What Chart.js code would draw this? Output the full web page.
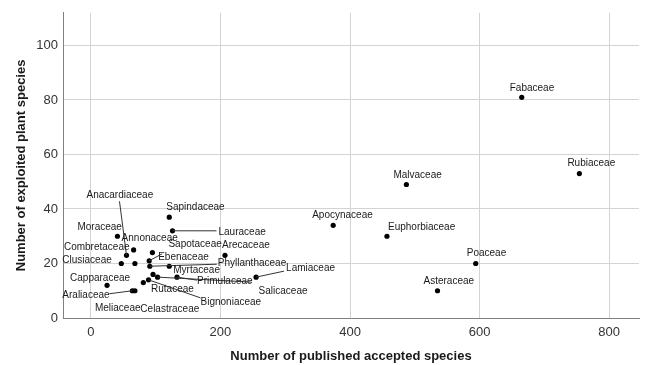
<!DOCTYPE html>
<html>
<head>
<meta charset="utf-8">
<script src="https://cdn.jsdelivr.net/npm/chart.js@4/dist/chart.umd.min.js"></script>
<style>
  html, body { margin: 0; padding: 0; background: #ffffff; }
  canvas { display: block; }
</style>
</head>
<body>
<canvas id="chart" width="646" height="365"></canvas>
<script>
// Plant families: published accepted species vs. exploited species
const families = [
  'Fabaceae', 'Rubiaceae', 'Malvaceae', 'Apocynaceae', 'Euphorbiaceae', 'Poaceae', 'Asteraceae',
  'Sapindaceae', 'Lauraceae', 'Moraceae', 'Anacardiaceae', 'Annonaceae', 'Combretaceae', 'Clusiaceae',
  'Sapotaceae', 'Ebenaceae', 'Phyllanthaceae', 'Myrtaceae', 'Arecaceae', 'Rutaceae', 'Salicaceae',
  'Primulaceae', 'Lamiaceae', 'Celastraceae', 'Bignoniaceae', 'Capparaceae', 'Araliaceae', 'Meliaceae'
];
const publishedSpecies = [
  665, 754, 487, 374, 457, 594, 535,
  121, 126, 41, 55, 66, 68, 47,
  95, 90, 91, 121, 207, 96, 103,
  133, 255, 81, 89, 25, 64, 68
];
const exploitedSpecies = [
  81, 53, 49, 34, 30, 20, 10,
  37, 32, 30, 23, 25, 20, 20,
  24, 21, 19, 19, 23, 16, 15,
  15, 15, 13, 14, 12, 10, 10
];
const xTickValues = [0, 200, 400, 600, 800];
const yTickValues = [0, 20, 40, 60, 80, 100];

// Where each family name sits relative to its point (px), plus optional leader-line end
const labelLayout = {
  Fabaceae:       { dx: -12, dy: -9 },
  Rubiaceae:      { dx: -12, dy: -10 },
  Malvaceae:      { dx: -13, dy: -9 },
  Apocynaceae:    { dx: -21, dy: -10 },
  Euphorbiaceae:  { dx: 1,   dy: -9 },
  Poaceae:        { dx: -9,  dy: -10 },
  Asteraceae:     { dx: -14, dy: -10 },
  Sapindaceae:    { dx: -3,  dy: -10 },
  Lauraceae:      { dx: 46,  dy: 1,   line: [44, 0] },
  Moraceae:       { dx: -40, dy: -9 },
  Anacardiaceae:  { dx: -40, dy: -60, line: [-7, -54] },
  Annonaceae:     { dx: -12, dy: -12 },
  Combretaceae:   { dx: -71, dy: -16 },
  Clusiaceae:     { dx: -59, dy: -3 },
  Sapotaceae:     { dx: 16,  dy: -8 },
  Ebenaceae:      { dx: 9,   dy: -4,  line: [13, -7] },
  Phyllanthaceae: { dx: 68,  dy: -3,  line: [67, -2] },
  Myrtaceae:      { dx: 4,   dy: 4 },
  Arecaceae:      { dx: -3,  dy: -10 },
  Rutaceae:       { dx: -2,  dy: 15 },
  Salicaceae:     { dx: 101, dy: 14,  line: [94, 5] },
  Primulaceae:    { dx: 20,  dy: 4,   line: [20, 3] },
  Lamiaceae:      { dx: 30,  dy: -9,  line: [28, -6] },
  Celastraceae:   { dx: -3,  dy: 27 },
  Bignoniaceae:   { dx: 52,  dy: 22,  line: [52, 18] },
  Capparaceae:    { dx: -37, dy: -7 },
  Araliaceae:     { dx: -70, dy: 4,   line: [-23, 3] },
  Meliaceae:      { dx: -40, dy: 17 }
};

const FONT = '"Liberation Sans", Arial, Helvetica, sans-serif';

// Draws the family names and their leader lines next to each point
const familyLabels = {
  id: 'familyLabels',
  afterDatasetsDraw(chart) {
    const ctx = chart.ctx;
    const meta = chart.getDatasetMeta(0);
    ctx.save();
    ctx.lineWidth = 1;
    ctx.strokeStyle = '#333333';
    meta.data.forEach((pt, i) => {
      const lay = labelLayout[families[i]];
      if (lay && lay.line) {
        ctx.beginPath();
        ctx.moveTo(pt.x, pt.y);
        ctx.lineTo(pt.x + lay.line[0], pt.y + lay.line[1]);
        ctx.stroke();
      }
    });
    ctx.font = '10px ' + FONT;
    ctx.textAlign = 'left';
    ctx.textBaseline = 'middle';
    ctx.fillStyle = '#1a1a1a';
    meta.data.forEach((pt, i) => {
      const lay = labelLayout[families[i]] || { dx: 4, dy: -8 };
      ctx.fillText(families[i], pt.x + lay.dx, pt.y + lay.dy);
    });
    ctx.restore();
  }
};

const points = publishedSpecies.map((x, i) => ({ x, y: exploitedSpecies[i] }));

new Chart(document.getElementById('chart'), {
  type: 'scatter',
  data: {
    datasets: [{
      label: 'Families',
      data: points,
      backgroundColor: '#000000',
      borderWidth: 0,
      pointRadius: 2.6,
      pointHoverRadius: 2.6
    }]
  },
  options: {
    responsive: false,
    animation: false,
    layout: { padding: { top: 10, right: 7, left: 0, bottom: 0 } },
    plugins: { legend: { display: false }, tooltip: { enabled: false } },
    scales: {
      x: {
        type: 'linear',
        min: -43,
        max: 846,
        afterBuildTicks: s => { s.ticks = xTickValues.map(v => ({ value: v })); },
        afterFit: s => { s.height = 47; },
        grid: { color: '#d3d3d3', lineWidth: 1, drawTicks: false },
        border: { color: '#808080', width: 1 },
        ticks: { font: { family: FONT, size: 13 }, color: '#333333', padding: 7, maxRotation: 0 },
        title: {
          display: true,
          text: 'Number of published accepted species',
          font: { family: FONT, size: 13, weight: 'bold' },
          color: '#1a1a1a',
          padding: { top: 0, bottom: 1 }
        }
      },
      y: {
        type: 'linear',
        min: 0,
        max: 112,
        afterBuildTicks: s => { s.ticks = yTickValues.map(v => ({ value: v })); },
        afterFit: s => { s.width = 63; },
        grid: { color: '#d3d3d3', lineWidth: 1, drawTicks: false },
        border: { color: '#808080', width: 1 },
        ticks: { font: { family: FONT, size: 13 }, color: '#333333', padding: 5 },
        title: {
          display: true,
          text: 'Number of exploited plant species',
          font: { family: FONT, size: 13, weight: 'bold' },
          color: '#1a1a1a',
          padding: { top: 14, bottom: 0 }
        }
      }
    }
  },
  plugins: [familyLabels]
});
</script>
</body>
</html>
